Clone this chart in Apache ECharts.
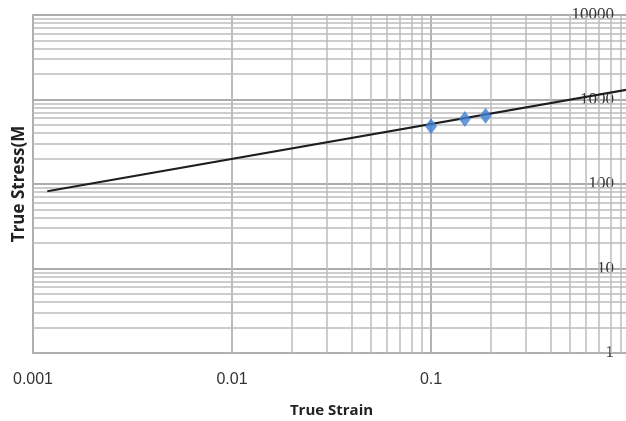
<!DOCTYPE html>
<html>
<head>
<meta charset="utf-8">
<script src="https://cdn.jsdelivr.net/npm/echarts@6/dist/echarts.min.js"></script>
<style>
  html, body { margin: 0; padding: 0; background: #fff; }
  #main { width: 626px; height: 421px; }
</style>
</head>
<body>
<div id="main"></div>
<script>
// measured points (true strain, true stress)
const strain = [0.1, 0.148, 0.188]
const stress = [484, 586, 641]
// power-law fit line, end points
const fitStrain = [0.00118, 1]
const fitStress = [82, 1325]
// axis ticks
const xTicks = ['0.001', '0.01', '0.1']
const yTicks = ['1', '10', '100', '1000', '10000']
const minorMult = [2, 3, 4, 5, 6, 7, 8, 9]

// minor gridline positions (2..9 in each decade)
const minorX = []
;[0.001, 0.01, 0.1].forEach(d => minorMult.forEach(m => minorX.push(d * m)))
const minorY = []
;[1, 10, 100, 1000].forEach(d => minorMult.forEach(m => minorY.push(d * m)))

const chart = echarts.init(document.getElementById('main'))

const gridLine = { color: '#bdbdbd', width: 1.5, type: 'solid' }

chart.setOption({
  animation: false,
  grid: { left: 33, right: -4, top: 15, bottom: 68, outerBoundsMode: 'none', containLabel: false },
  xAxis: {
    type: 'log', logBase: 10, min: 0.001, max: 1,
    name: 'True Strain', nameLocation: 'middle', nameGap: 50,
    nameTextStyle: { fontFamily: 'Open Sans', fontWeight: 'bold', fontSize: 15, color: '#222' },
    axisLine: { lineStyle: { color: '#b0b0b0', width: 1.8 } },
    axisTick: { show: false },
    axisLabel: {
      margin: 19, fontFamily: 'Liberation Sans', fontSize: 16, color: '#333',
      formatter: v => xTicks.find(t => Math.abs(Math.log10(+t) - Math.log10(v)) < 1e-6) || ''
    },
    splitLine: { show: true, lineStyle: { color: '#acacac', width: 1.8 } }
  },
  yAxis: [{
    type: 'log', logBase: 10, min: 1, max: 10000, position: 'left',
    name: 'True Stress(M', nameLocation: 'middle', nameGap: 5, nameRotate: 90,
    nameTextStyle: { fontFamily: 'Open Sans', fontWeight: 'bold', fontSize: 17, color: '#222' },
    axisLine: { show: true, lineStyle: { color: '#b0b0b0', width: 1.8 } },
    axisTick: { show: false },
    axisLabel: { show: false },
    splitLine: { show: true, lineStyle: { color: '#acacac', width: 1.8 } }
  }, {
    type: 'log', logBase: 10, min: 1, max: 10000, position: 'right',
    axisLine: { show: false },
    axisTick: { show: false },
    splitLine: { show: false },
    axisLabel: {
      inside: true, margin: 16, fontFamily: 'Liberation Serif', fontSize: 17, color: '#333',
      formatter: v => yTicks.find(t => Math.abs(Math.log10(+t) - Math.log10(v)) < 1e-6) || ''
    }
  }],
  series: [{
    type: 'line',
    data: fitStrain.map((x, i) => [x, fitStress[i]]),
    showSymbol: false,
    lineStyle: { color: '#1e1e1e', width: 2 },
    silent: true,
    z: 3,
    markLine: {
      silent: true, symbol: 'none', label: { show: false },
      lineStyle: gridLine, animation: false, z: 1,
      data: minorX.map(v => ({ xAxis: v })).concat(minorY.map(v => ({ yAxis: v })))
    }
  }, {
    type: 'scatter',
    data: strain.map((x, i) => [x, stress[i]]),
    symbol: 'diamond',
    symbolSize: [12, 16],
    itemStyle: { color: '#3f7fcf' },
    z: 4
  }]
})
</script>
</body>
</html>
